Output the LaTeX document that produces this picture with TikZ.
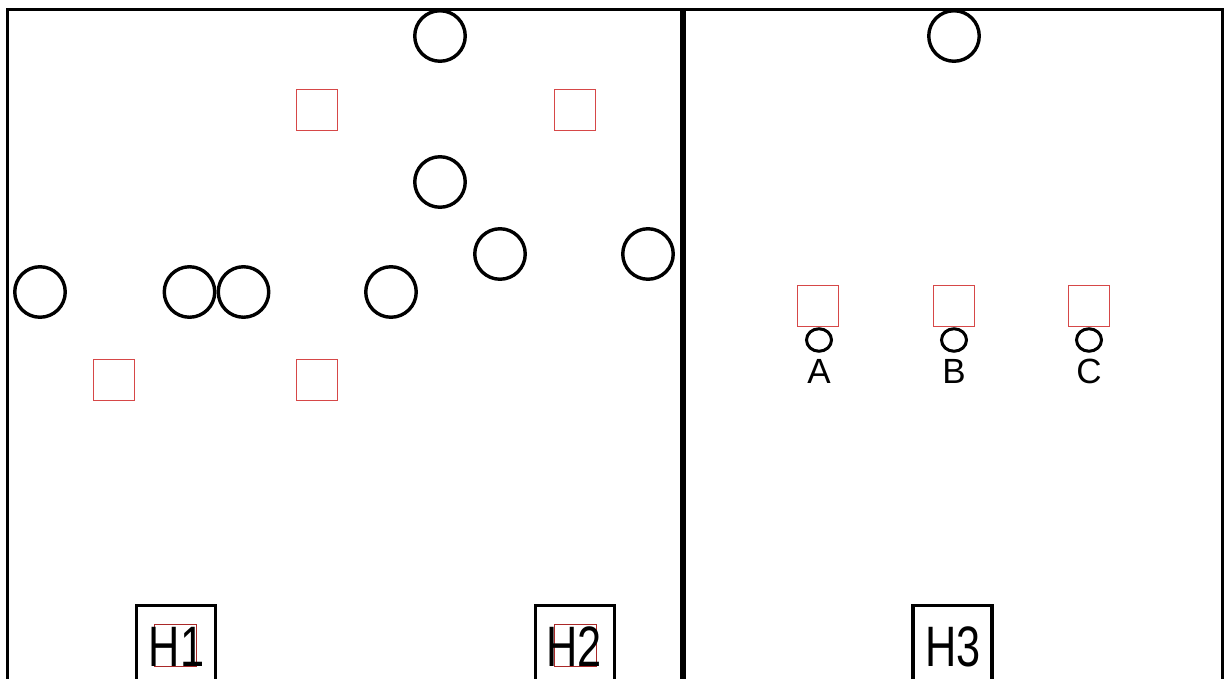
\documentclass[tikz,border=0pt]{standalone}
\usepackage{fontspec}
\setmainfont{Liberation Sans}
\usetikzlibrary{shapes.geometric}
\definecolor{sqred}{RGB}{214,72,72}
\definecolor{hred}{RGB}{170,40,40}
\begin{document}
\begin{tikzpicture}[x=1pt,y=-1pt,
  bigc/.style={circle,draw=black,line width=3.4pt,minimum size=50.5pt,inner sep=0pt},
  smallc/.style={ellipse,draw=black,line width=3pt,minimum width=25pt,minimum height=22.5pt,inner sep=0pt},
  rsq/.style={rectangle,draw=sqred,line width=1.3pt,minimum size=41pt,inner sep=0pt},
  hsq/.style={rectangle,draw=hred,line width=1pt,minimum size=42pt,inner sep=0pt},
  hbox/.style={rectangle,draw=black,line width=3.4pt,minimum width=79pt,minimum height=96pt,inner sep=0pt},
  lbl/.style={inner sep=0pt,anchor=base,font=\fontsize{35}{35}\selectfont},
  hlbl/.style={inner sep=0pt,anchor=base,font=\fontsize{57}{57}\selectfont},
  frame/.style={draw=black,line width=3.4pt,line join=miter}]
\useasboundingbox (0,0) rectangle (1224,679);
\clip (0,0) rectangle (1224,679);
\fill[white] (0,0) rectangle (1224,679);
% frame
\coordinate (fbl) at (7.5,700);
\coordinate (ftl) at (7.5,9.5);
\coordinate (ftr) at (1222.5,9.5);
\coordinate (fbr) at (1222.5,700);
\coordinate (dt) at (683,9.5);
\coordinate (db) at (683,700);
\draw[frame] (fbl) -- (ftl) -- (ftr) -- (fbr);
\draw[draw=black,line width=6pt] (dt) -- (db);
% big circles left panel
\node[bigc] (c1) at (440,36) {};
\node[bigc] (c2) at (440,182) {};
\node[bigc] (c3) at (500,254) {};
\node[bigc] (c4) at (648,254) {};
\node[bigc] (c5) at (40,292) {};
\node[bigc] (c6) at (189.5,292) {};
\node[bigc] (c7) at (243.5,292) {};
\node[bigc] (c8) at (391,292) {};
% red squares left panel
\node[rsq] (s1) at (317,110) {};
\node[rsq] (s2) at (575,110) {};
\node[rsq] (s3) at (114,380) {};
\node[rsq] (s4) at (317,380) {};
% right panel
\node[bigc] (c9) at (954,36) {};
\node[rsq] (sa) at (818,306) {};
\node[rsq] (sb) at (954,306) {};
\node[rsq] (sc) at (1089,306) {};
\node[smallc] (oa) at (819,340) {};
\node[smallc] (ob) at (954,340) {};
\node[smallc] (oc) at (1089,340) {};
\node[lbl] (la) at (819,383) {A};
\node[lbl] (lb) at (954,383) {B};
\node[lbl] (lc) at (1089,383) {C};
% H boxes
\node[hbox] (h1) at (176,653.5) {};
\node[hbox] (h2) at (575,653.5) {};
\node[hbox] (h3) at (952.5,653.5) {};
\node[hsq] (q1) at (175.5,645.5) {};
\node[hsq] (q2) at (575.5,645.5) {};
\node[hlbl] (t1) at (176.5,666) {\scalebox{0.76}[1]{H1}};
\node[hlbl] (t2) at (574,666) {\scalebox{0.76}[1]{H2}};
\node[hlbl] (t3) at (953,666) {\scalebox{0.76}[1]{H3}};
\end{tikzpicture}
\end{document}
